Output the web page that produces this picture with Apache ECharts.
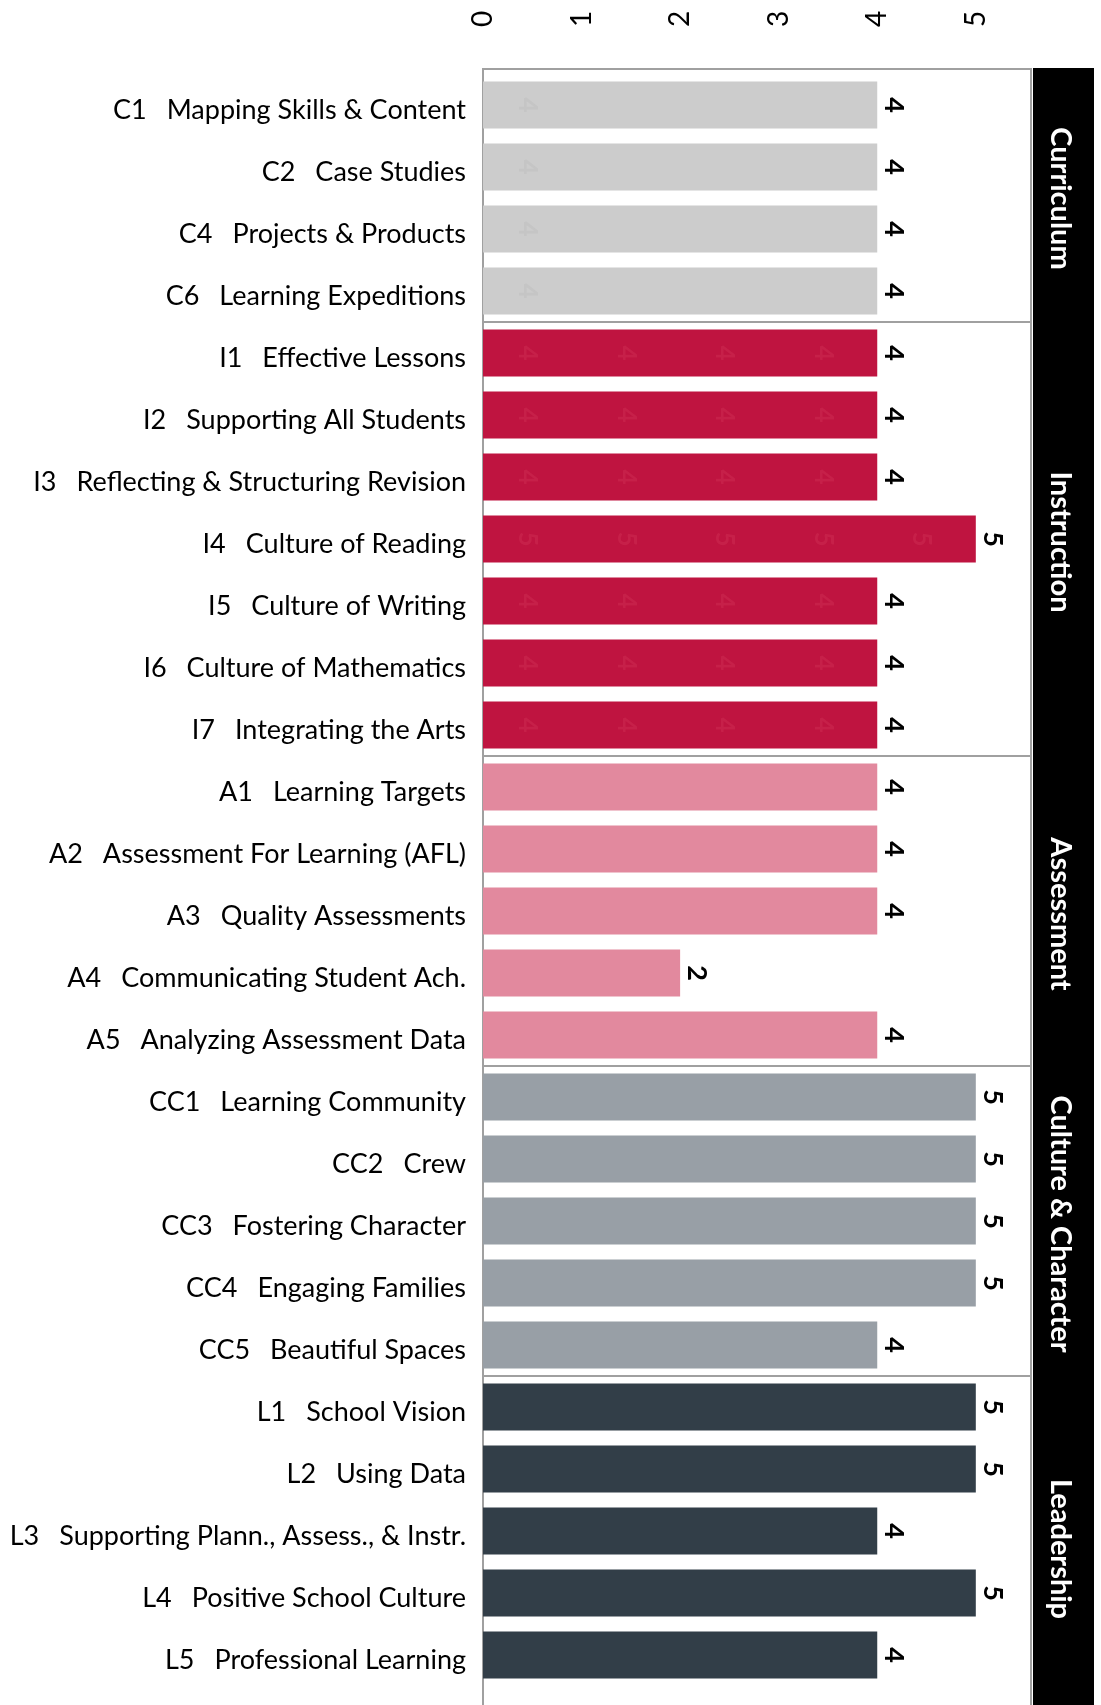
<!DOCTYPE html>
<html>
<head>
<meta charset="utf-8">
<script src="https://cdn.jsdelivr.net/npm/echarts@6/dist/echarts.min.js"></script>
<style>
  html, body { margin: 0; padding: 0; background: #fff; }
  #chart { width: 1101px; height: 1705px; }
</style>
</head>
<body>
<div id="chart"></div>
<script>
// ---- data ----
const codes = ['C1','C2','C4','C6','I1','I2','I3','I4','I5','I6','I7','A1','A2','A3','A4','A5','CC1','CC2','CC3','CC4','CC5','L1','L2','L3','L4','L5'];
const names = ['Mapping Skills & Content','Case Studies','Projects & Products','Learning Expeditions',
  'Effective Lessons','Supporting All Students','Reflecting & Structuring Revision','Culture of Reading','Culture of Writing','Culture of Mathematics','Integrating the Arts',
  'Learning Targets','Assessment For Learning (AFL)','Quality Assessments','Communicating Student Ach.','Analyzing Assessment Data',
  'Learning Community','Crew','Fostering Character','Engaging Families','Beautiful Spaces',
  'School Vision','Using Data','Supporting Plann., Assess., & Instr.','Positive School Culture','Professional Learning'];
const scores = [4,4,4,4, 4,4,4,5,4,4,4, 4,4,4,2,4, 5,5,5,5,4, 5,5,4,5,4];
const groupNames = ['Curriculum','Instruction','Assessment','Culture & Character','Leadership'];
const groupStart = [0,4,11,16,21];
const groupEnd   = [3,10,15,20,25];
const groupColors = ['#cccccc','#bf1440','#e2899e','#989fa6','#323e48'];
const ghostColors = ['#c3c3c3','#c8234b',null,null,null];
const ghostCounts = ['first','all',null,null,null];
const tickLabels = ['0','1','2','3','4','5'];

// ---- build ----
const categories = codes.map((c, i) => c + '|' + names[i]);
function groupOf(i) { for (let g = 0; g < groupStart.length; g++) if (i >= groupStart[g] && i <= groupEnd[g]) return g; return 0; }
const barData = scores.map((v, i) => ({ value: v, itemStyle: { color: groupColors[groupOf(i)] } }));
const ghostData = [];
scores.forEach((v, i) => {
  const g = groupOf(i);
  if (!ghostCounts[g]) return;
  const n = ghostCounts[g] === 'first' ? 1 : v;
  for (let k = 0; k < n; k++) ghostData.push({ value: [k + 0.45, i, v], label: { color: ghostColors[g] } });
});
const groupData = groupNames.map((n, g) => [groupStart[g], groupEnd[g], g]);

const chart = echarts.init(document.getElementById('chart'));
const FONT = 'Lato, "Open Sans", sans-serif';
chart.setOption({
  animation: false,
  backgroundColor: '#fff',
  grid: { left: 483, right: 70, top: 74, bottom: 19, containLabel: false },
  xAxis: {
    type: 'value', position: 'top', min: 0, max: 5.56, interval: 1,
    axisLine: { show: false }, axisTick: { show: false }, splitLine: { show: false },
    axisLabel: {
      rotate: -90, margin: 47, fontSize: 28, color: '#000', fontFamily: FONT,
      formatter: v => (Math.abs(v - Math.round(v)) < 1e-6 && tickLabels[Math.round(v)] !== undefined) ? tickLabels[Math.round(v)] : ''
    }
  },
  yAxis: {
    type: 'category', inverse: true, data: categories,
    axisLine: { show: false }, axisTick: { show: false },
    axisLabel: {
      margin: 17, fontFamily: FONT, fontSize: 27, color: '#000', padding: [11, 0, 0, 0],
      formatter: v => { const p = v.split('|'); return '{c|' + p[0] + '}{n|' + p[1] + '}'; },
      rich: {
        c: { fontFamily: FONT, fontSize: 27, color: '#000', padding: [0, 20, 0, 0] },
        n: { fontFamily: FONT, fontSize: 27, color: '#000' }
      }
    }
  },
  series: [
    {
      type: 'custom', z: 1, silent: true,
      data: groupData,
      encode: { y: [0, 1] },
      renderItem: function (params, api) {
        const cs = params.coordSys;
        const s = api.value(0), e = api.value(1), g = api.value(2);
        const band = api.size([0, 1])[1];
        let y0 = api.coord([0, s])[1] - band / 2;
        let y1 = api.coord([0, e])[1] + band / 2;
        if (g === 0) y0 -= 5;
        if (g === groupNames.length - 1) y1 += 30;
        const x0 = cs.x, x1 = cs.x + cs.width;
        return {
          type: 'group',
          children: [
            { type: 'rect', shape: { x: x1 + 2, y: y0 - 1, width: 61, height: y1 - y0 + 2 }, style: { fill: '#000' } },
            { type: 'rect', shape: { x: x0, y: y0, width: x1 - x0, height: y1 - y0 }, style: { fill: 'none', stroke: '#a0a0a0', lineWidth: 2 } },
            { type: 'text', x: x1 + 29, y: (y0 + y1) / 2 + 3, rotation: -Math.PI / 2,
              style: { text: groupNames[g], x: 0, y: 0, align: 'center', verticalAlign: 'middle', fill: '#fff', font: 'bold 29px ' + FONT } }
          ]
        };
      }
    },
    {
      type: 'bar', z: 2, data: barData, barWidth: 47,
      label: {
        show: true, position: 'right', distance: 3, rotate: -90, align: 'center', verticalAlign: 'bottom',
        fontFamily: FONT, fontWeight: 'bold', fontSize: 27, color: '#000'
      }
    },
    {
      type: 'scatter', z: 3, symbolSize: 0, silent: true, data: ghostData,
      label: {
        show: true, position: 'inside', rotate: -90, fontFamily: FONT, fontWeight: 'bold', fontSize: 26,
        formatter: p => String(p.value[2])
      }
    }
  ]
});
</script>
</body>
</html>
